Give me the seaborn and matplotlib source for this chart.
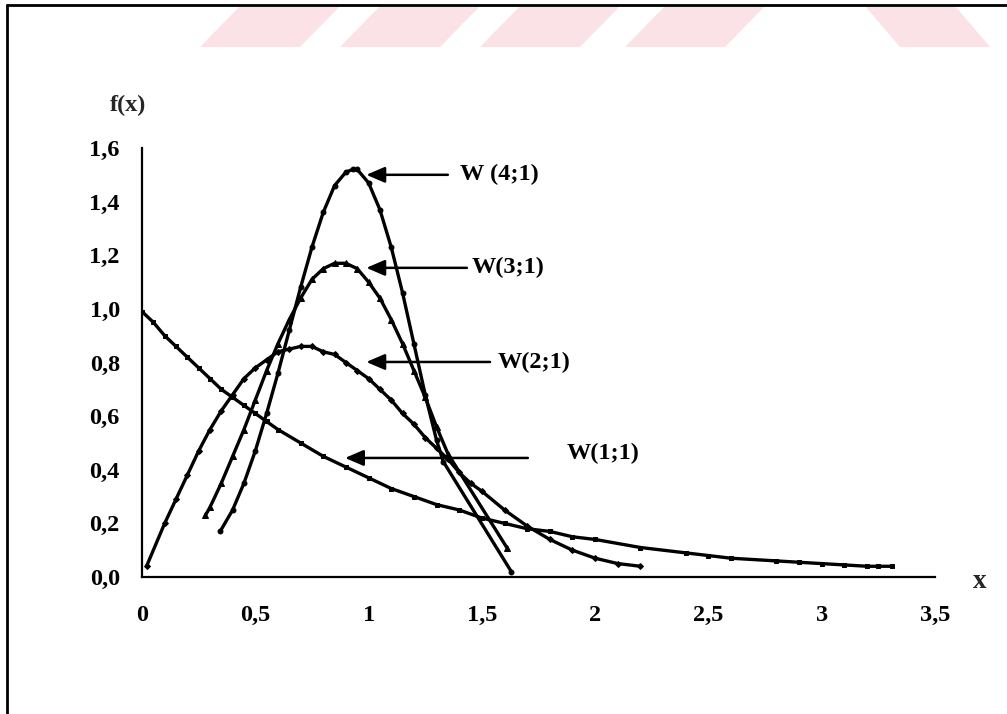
import matplotlib
matplotlib.use("Agg")
import matplotlib.pyplot as plt
from matplotlib.patches import Polygon
from matplotlib.lines import Line2D
import pandas as pd
import seaborn as sns

# ---------------- data ----------------
w1_x = [0.00, 0.05, 0.10, 0.15, 0.20, 0.25, 0.30, 0.35, 0.40, 0.45, 0.50, 0.55, 0.60,
        0.70, 0.80, 0.90, 1.00, 1.10, 1.20, 1.30, 1.40, 1.50, 1.60, 1.70, 1.80, 1.90,
        2.00, 2.20, 2.40, 2.50, 2.60, 2.80, 2.90, 3.00, 3.10, 3.20, 3.25, 3.31]
w1_y = [0.99, 0.95, 0.90, 0.86, 0.82, 0.78, 0.74, 0.70, 0.67, 0.64, 0.61, 0.58, 0.55,
        0.50, 0.45, 0.41, 0.37, 0.33, 0.30, 0.27, 0.25, 0.22, 0.20, 0.18, 0.17, 0.15,
        0.14, 0.11, 0.09, 0.08, 0.07, 0.06, 0.055, 0.05, 0.045, 0.04, 0.04, 0.04]

w2_x = [0.02, 0.10, 0.15, 0.20, 0.25, 0.30, 0.35, 0.40, 0.45, 0.50, 0.55, 0.60, 0.65,
        0.70, 0.75, 0.80, 0.85, 0.90, 0.95, 1.00, 1.05, 1.10, 1.15, 1.20, 1.25, 1.30,
        1.35, 1.40, 1.45, 1.50, 1.60, 1.70, 1.80, 1.90, 2.00, 2.10, 2.20]
w2_y = [0.04, 0.20, 0.29, 0.38, 0.47, 0.55, 0.62, 0.68, 0.74, 0.78, 0.81, 0.84, 0.85,
        0.86, 0.86, 0.84, 0.83, 0.80, 0.77, 0.74, 0.70, 0.66, 0.61, 0.57, 0.52, 0.48,
        0.44, 0.39, 0.35, 0.32, 0.25, 0.19, 0.14, 0.10, 0.07, 0.05, 0.04]

w3_x = [0.28, 0.30, 0.35, 0.40, 0.45, 0.50, 0.55, 0.60, 0.65, 0.70, 0.75, 0.80, 0.85,
        0.90, 0.95, 1.00, 1.05, 1.10, 1.15, 1.20, 1.25, 1.30, 1.35, 1.61]
w3_y = [0.23, 0.26, 0.35, 0.45, 0.55, 0.66, 0.77, 0.87, 0.96, 1.04, 1.11, 1.15, 1.17,
        1.17, 1.15, 1.10, 1.04, 0.96, 0.87, 0.77, 0.67, 0.56, 0.46, 0.11]

w4_x = [0.345, 0.40, 0.45, 0.50, 0.55, 0.60, 0.65, 0.70, 0.75, 0.80, 0.85, 0.90, 0.93,
        0.95, 1.00, 1.05, 1.10, 1.15, 1.20, 1.25, 1.30, 1.33, 1.63]
w4_y = [0.17, 0.25, 0.35, 0.47, 0.61, 0.76, 0.92, 1.08, 1.23, 1.36, 1.46, 1.51, 1.52,
        1.52, 1.47, 1.37, 1.23, 1.06, 0.87, 0.68, 0.51, 0.43, 0.02]

labels = ["W (4;1)", "W(3;1)", "W(2;1)", "W(1;1)"]
x_ticks = [0, 0.5, 1, 1.5, 2, 2.5, 3, 3.5]
x_tick_labels = ["0", "0,5", "1", "1,5", "2", "2,5", "3", "3,5"]
y_ticks = [0.0, 0.2, 0.4, 0.6, 0.8, 1.0, 1.2, 1.4, 1.6]
y_tick_labels = ["0,0", "0,2", "0,4", "0,6", "0,8", "1,0", "1,2", "1,4", "1,6"]

# ---------------- styling ----------------
sns.set_style("white")
plt.rcParams['font.family'] = ['Liberation Serif', 'DejaVu Serif']
FS = 17.5

W, H = 1007, 714
fig = plt.figure(figsize=(W / 100, H / 100), dpi=100)
fig.patch.set_facecolor("white")

# faint watermark stripes at the top
wm = "#fbe2e7"
for bl in [200, 340, 480, 625]:
    fig.patches.append(Polygon([(bl / W, 1 - 47 / H), ((bl + 100) / W, 1 - 47 / H),
                                ((bl + 140) / W, 1 - 6 / H), ((bl + 40) / W, 1 - 6 / H)],
                               closed=True, transform=fig.transFigure,
                               facecolor=wm, edgecolor="none", zorder=0))
fig.patches.append(Polygon([(900 / W, 1 - 47 / H), (990 / W, 1 - 47 / H),
                            (955 / W, 1 - 6 / H), (865 / W, 1 - 6 / H)],
                           closed=True, transform=fig.transFigure,
                           facecolor=wm, edgecolor="none", zorder=0))

# outer frame (left and top edges visible)
fig.lines.append(Line2D([7 / W, 7 / W], [0, 1 - 5 / H], transform=fig.transFigure,
                        color="black", lw=2))
fig.lines.append(Line2D([7 / W, 1], [1 - 5 / H, 1 - 5 / H], transform=fig.transFigure,
                        color="black", lw=2))

ax = fig.add_axes([142 / W, 1 - 577 / H, (935 - 142) / W, (577 - 148) / H])
ax.set_facecolor("none")

series = [(w4_x, w4_y, "o", 3.5), (w3_x, w3_y, "^", 4.5),
          (w2_x, w2_y, "D", 3.0), (w1_x, w1_y, "s", 3.0)]
for (xs, ys, mk, ms), lab in zip(series, labels):
    df = pd.DataFrame({"x": xs, "y": ys})
    sns.lineplot(data=df, x="x", y="y", ax=ax, color="black", lw=2.4,
                 marker=mk, markersize=ms, markeredgecolor="black",
                 markerfacecolor="black", estimator=None, sort=False, legend=False)

ax.set_xlim(0, 3.5)
ax.set_ylim(0, 1.6)
ax.set_xticks(x_ticks)
ax.set_xticklabels(x_tick_labels)
ax.set_yticks(y_ticks)
ax.set_yticklabels(y_tick_labels)
ax.set_xlabel("")
ax.set_ylabel("")
for s in ["top", "right"]:
    ax.spines[s].set_visible(False)
for s in ["left", "bottom"]:
    ax.spines[s].set_color("black")
    ax.spines[s].set_linewidth(1.6)
ax.tick_params(axis="both", direction="out", length=7, width=1.2, colors="black",
               labelsize=FS)
ax.tick_params(axis="x", pad=13)
ax.tick_params(axis="y", pad=9)
for t in ax.get_xticklabels() + ax.get_yticklabels():
    t.set_fontweight("bold")

# annotations with arrows
arrows = [((0.99, 1.50), 1.35, 1.403, 1.50),
          ((0.99, 1.153), 1.434, 1.456, 1.153),
          ((0.99, 0.802), 1.536, 1.571, 0.802),
          ((0.896, 0.444), 1.703, 1.876, 0.46)]
for (head, tail_x, tx, ty), lab in zip(arrows, labels):
    ax.annotate("", xy=head, xytext=(tail_x, head[1]),
                arrowprops=dict(arrowstyle="-|>,head_length=0.7,head_width=0.3",
                                color="black", lw=1.8, shrinkA=0, shrinkB=0,
                                mutation_scale=16))
    ax.text(tx, ty, lab, ha="left", va="center", fontsize=FS, fontweight="bold",
            color="black")

fig.text(128 / W, 1 - 105 / H, "f(x)", ha="center", va="center", fontsize=FS,
         fontweight="bold")
fig.text(980 / W, 1 - 582 / H, "x", ha="center", va="center", fontsize=FS + 2,
         fontweight="bold")

fig.savefig("out.png", dpi=100)
